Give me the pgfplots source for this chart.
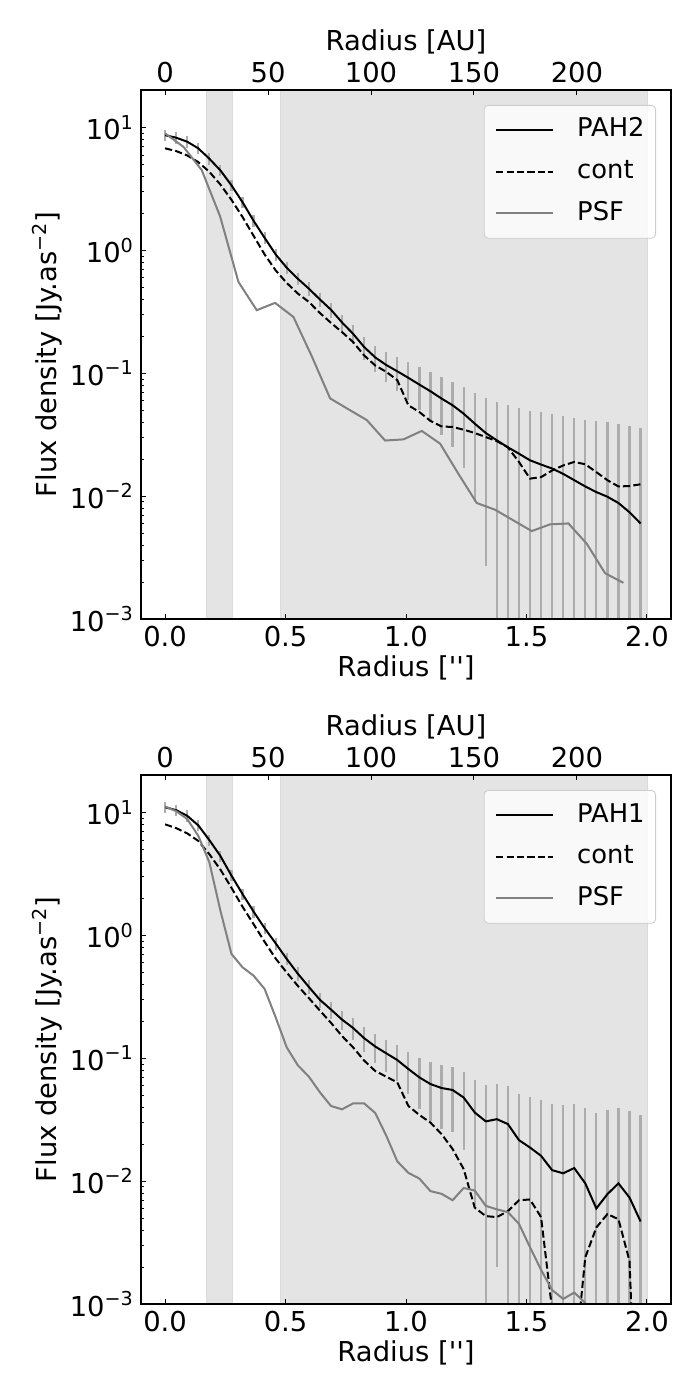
\documentclass[border=0pt]{standalone}
\usepackage{fontspec}
\setmainfont{DejaVu Sans}
\usepackage{pgfplots}
\usepackage{pgfplotstable}
\pgfplotsset{compat=1.18}
\definecolor{bandgray}{RGB}{228,228,228}
\definecolor{bandedge}{RGB}{218,218,218}
\definecolor{errgray}{RGB}{172,172,172}
\definecolor{psfgray}{RGB}{128,128,128}
\definecolor{legedge}{RGB}{204,204,204}
\newcommand{\fs}{\fontsize{13.7}{16.4}\selectfont}
\newcommand{\lfs}{\fontsize{12.9}{15.5}\selectfont}

\pgfplotstableread{
x pah cont ep em
0.0000 8.7 6.8 0.91 0.91
0.0459 8.3 6.46 0.87 0.87
0.0918 7.7 5.95 0.81 0.81
0.1377 6.8 5.25 0.71 0.71
0.1836 5.6 4.38 0.59 0.59
0.2295 4.5 3.45 0.47 0.47
0.2754 3.4 2.59 0.36 0.36
0.3213 2.48 1.88 0.26 0.26
0.3672 1.75 1.32 0.186 0.186
0.4131 1.27 0.93 0.137 0.137
0.4590 0.93 0.69 0.102 0.102
0.5049 0.725 0.545 0.082 0.082
0.5508 0.59 0.447 0.069 0.069
0.5967 0.49 0.382 0.060 0.060
0.6426 0.40 0.31 0.052 0.052
0.6885 0.33 0.258 0.046 0.046
0.7344 0.26 0.217 0.041 0.041
0.7803 0.21 0.18 0.037 0.037
0.8262 0.164 0.14 0.035 0.035
0.8721 0.135 0.116 0.033 0.033
0.9180 0.117 0.103 0.032 0.032
0.9639 0.104 0.088 0.032 0.032
1.0098 0.092 0.055 0.031 0.031
1.0557 0.081 0.0484 0.031 0.031
1.1016 0.0715 0.041 0.031 0.031
1.1475 0.0624 0.037 0.031 0.031
1.1934 0.055 0.0366 0.030 0.030
1.2393 0.047 0.0348 0.030 0.030
1.2852 0.039 0.0327 0.030 0.030
1.3311 0.0327 0.0303 0.030 0.030
1.3770 0.0285 0.0281 0.030 0.0282
1.4229 0.025 0.025 0.030 0.0248
1.4688 0.0222 0.019 0.030 0.0220
1.5147 0.0196 0.0139 0.030 0.0194
1.5606 0.0181 0.0143 0.030 0.0179
1.6065 0.0168 0.0162 0.030 0.0166
1.6524 0.0152 0.0178 0.030 0.0150
1.6983 0.0135 0.019 0.030 0.0134
1.7442 0.012 0.0182 0.030 0.0119
1.7901 0.0108 0.0157 0.030 0.0107
1.8360 0.0099 0.0135 0.030 0.0098
1.8819 0.0088 0.012 0.030 0.0087
1.9278 0.0074 0.0121 0.030 0.0073
1.9737 0.006 0.0125 0.030 0.0059
}\topdata

\pgfplotstableread{
x psf
0.0000 9.0
0.0761 7.0
0.1522 4.52
0.2283 1.9
0.3044 0.556
0.3805 0.327
0.4566 0.375
0.5327 0.288
0.6088 0.138
0.6849 0.0626
0.7610 0.051
0.8371 0.0417
0.9132 0.0284
0.9893 0.029
1.0654 0.034
1.1415 0.0268
1.2176 0.0152
1.2937 0.0088
1.3698 0.00776
1.4459 0.00635
1.5220 0.0052
1.5981 0.0059
1.6742 0.006
1.7503 0.0041
1.8264 0.00236
1.9025 0.00197
}\toppsf

\pgfplotstableread{
x pah cont psf ep em
0.0000 11.1 8.05 11.25 1.17 1.17
0.0459 10.5 7.5 10.3 1.10 1.10
0.0918 9.45 6.8 8.9 0.99 0.99
0.1377 7.9 5.9 6.5 0.83 0.83
0.1836 6.0 4.6 3.96 0.63 0.63
0.2295 4.45 3.45 1.6 0.47 0.47
0.2754 3.08 2.45 0.71 0.32 0.32
0.3213 2.18 1.72 0.552 0.23 0.23
0.3672 1.57 1.24 0.472 0.167 0.167
0.4131 1.15 0.89 0.368 0.124 0.124
0.4590 0.865 0.65 0.216 0.096 0.096
0.5049 0.645 0.50 0.123 0.074 0.074
0.5508 0.49 0.39 0.088 0.060 0.060
0.5967 0.382 0.31 0.071 0.050 0.050
0.6426 0.30 0.245 0.053 0.044 0.044
0.6885 0.25 0.195 0.041 0.040 0.040
0.7344 0.207 0.152 0.0385 0.037 0.037
0.7803 0.177 0.123 0.043 0.035 0.035
0.8262 0.146 0.096 0.043 0.034 0.034
0.8721 0.125 0.079 0.036 0.033 0.033
0.9180 0.11 0.071 0.0235 0.032 0.032
0.9639 0.097 0.0637 0.0145 0.032 0.032
1.0098 0.082 0.041 0.0117 0.031 0.031
1.0557 0.070 0.0346 0.0105 0.031 0.031
1.1016 0.0618 0.030 0.0083 0.031 0.031
1.1475 0.0574 0.0242 0.0079 0.031 0.031
1.1934 0.0553 0.0183 0.0070 0.030 0.030
1.2393 0.048 0.01256 0.0088 0.030 0.030
1.2852 0.0363 0.0061 0.0084 0.030 0.030
1.3311 0.0307 0.0052 0.0063 0.030 0.030
1.3770 0.032 0.0051 0.0059 0.030 0.030
1.4229 0.0292 0.0057 0.0056 0.030 0.0289
1.4688 0.0216 0.0070 0.0045 0.030 0.0214
1.5147 0.0188 0.0071 0.0029 0.030 0.0186
1.5606 0.0161 0.0051 0.0019 0.030 0.0159
1.6065 0.0123 0.0009 0.0013 0.030 0.0122
1.6524 0.0116 0.00001 0.0011 0.030 0.0115
1.6983 0.0128 0.0003 0.00124 0.030 0.0127
1.7442 0.0096 0.0024 0.00102 0.030 0.0095
1.7901 0.006 0.0042 0.0008 0.030 0.0059
1.8360 0.00785 0.0054 0.0007 0.030 0.0078
1.8819 0.0096 0.0049 0.0006 0.030 0.0095
1.9278 0.00736 0.00224 0.0005 0.030 0.0073
1.9737 0.0047 0.00001 0.0005 0.030 0.00465
}\botdata

\pgfplotsset{
 myaxis/.style={
  scale only axis, width=265pt, height=264.5pt,
  xmin=-0.1, xmax=2.1, ymin=1e-3, ymax=20.3,
  axis on top,
  xtick={0,0.5,1,1.5,2}, xtick pos=bottom, ytick pos=left,
  ytick={1e-3,1e-2,1e-1,1,10},
  minor ytick={2e-3,3e-3,4e-3,5e-3,6e-3,7e-3,8e-3,9e-3,2e-2,3e-2,4e-2,5e-2,6e-2,7e-2,8e-2,9e-2,0.2,0.3,0.4,0.5,0.6,0.7,0.8,0.9,2,3,4,5,6,7,8,9,20},
  yticklabels={10\textsuperscript{−3},10\textsuperscript{−2},10\textsuperscript{−1},10\textsuperscript{0},10\textsuperscript{1}},
  xticklabel style={/pgf/number format/fixed, /pgf/number format/fixed zerofill, /pgf/number format/precision=1, /pgf/number format/assume math mode=true},
  tick label style={font=\fs},
  label style={font=\fs},
  tick align=inside,
  major tick length=2.5pt, minor tick length=1.3pt,
  every tick/.style={black, line width=0.5pt},
  axis line style={line width=0.6pt},
  xlabel={Radius [\textquotesingle\textquotesingle]},
  ylabel={Flux density [Jy.as\textsuperscript{−2}]},
  xlabel style={at={(axis description cs:0.5,-0.093)}, anchor=center},
  ylabel style={at={(axis description cs:-0.177,0.5)}, anchor=center},
  legend style={at={(axis description cs:1,1)}, xshift=-7.5pt, yshift=-7.5pt, anchor=north east, draw=legedge, fill=white, fill opacity=0.8, text opacity=1, rounded corners=2pt, font=\lfs, inner xsep=5.5pt, inner ysep=6.2pt, row sep=8.4pt, nodes={inner sep=0pt, text height=9.6pt, text depth=2.8pt}},
  legend cell align=left,
  legend image code/.code={\draw[##1] (0pt,0pt) -- (28.5pt,0pt);},
 },
 auaxis/.style={
  scale only axis, width=265pt, height=264.5pt,
  xmin=-11.7, xmax=245.7, ymin=0, ymax=1,
  axis x line*=top, axis y line=none,
  xtick={0,50,100,150,200}, tick align=inside,
  major tick length=2.5pt,
  xticklabel style={/pgf/number format/assume math mode=true},
  tick label style={font=\fs}, label style={font=\fs},
  xlabel={Radius [AU]},
  xlabel style={at={(axis description cs:0.5,1.0907)}, anchor=center},
  axis line style={line width=0.6pt},
  every tick/.style={black, line width=0.5pt},
 },
}

\begin{document}
\begin{tikzpicture}
\useasboundingbox (0,0) rectangle (350pt,-700pt);
% ---------------- top panel
\begin{semilogyaxis}[myaxis, at={(70.5pt,-309.5pt)}, anchor=south west, legend style={/tikz/every odd column/.append style={column sep=11.5pt}}]
\addplot[fill=bandgray, draw=bandedge, line width=0.4pt, forget plot] coordinates {(0.17,1e-5) (0.28,1e-5) (0.28,1e3) (0.17,1e3)} -- cycle;
\addplot[fill=bandgray, draw=bandedge, line width=0.4pt, forget plot] coordinates {(0.48,1e-5) (2.0,1e-5) (2.0,1e3) (0.48,1e3)} -- cycle;
\addplot[forget plot, draw=none, mark=none, error bars/y dir=both, error bars/y explicit, error bars/error mark=none, error bars/error bar style={draw=errgray, line width=1.1pt, solid}] table[x=x, y=pah, y error plus=ep, y error minus=em] {\topdata};
\addplot[black, line width=1pt] table[x=x, y=pah] {\topdata};
\addlegendentry{PAH2}
\addplot[black, line width=1pt, dash pattern=on 3.6pt off 1.6pt] table[x=x, y=cont] {\topdata};
\addlegendentry{cont}
\addplot[psfgray, line width=1pt] table[x=x, y=psf] {\toppsf};
\addlegendentry{PSF}
\end{semilogyaxis}
\begin{axis}[auaxis, at={(70.5pt,-309.5pt)}, anchor=south west]
\addplot[draw=none] coordinates {(0,0.5)};
\end{axis}
% ---------------- bottom panel
\begin{semilogyaxis}[myaxis, at={(70.5pt,-652pt)}, anchor=south west, legend style={/tikz/every odd column/.append style={column sep=11.5pt}}]
\addplot[fill=bandgray, draw=bandedge, line width=0.4pt, forget plot] coordinates {(0.17,1e-5) (0.28,1e-5) (0.28,1e3) (0.17,1e3)} -- cycle;
\addplot[fill=bandgray, draw=bandedge, line width=0.4pt, forget plot] coordinates {(0.48,1e-5) (2.0,1e-5) (2.0,1e3) (0.48,1e3)} -- cycle;
\addplot[forget plot, draw=none, mark=none, error bars/y dir=both, error bars/y explicit, error bars/error mark=none, error bars/error bar style={draw=errgray, line width=1.1pt, solid}] table[x=x, y=pah, y error plus=ep, y error minus=em] {\botdata};
\addplot[black, line width=1pt] table[x=x, y=pah] {\botdata};
\addlegendentry{PAH1}
\addplot[black, line width=1pt, dash pattern=on 3.6pt off 1.6pt] table[x=x, y=cont] {\botdata};
\addlegendentry{cont}
\addplot[psfgray, line width=1pt] table[x=x, y=psf] {\botdata};
\addlegendentry{PSF}
\end{semilogyaxis}
\begin{axis}[auaxis, at={(70.5pt,-652pt)}, anchor=south west]
\addplot[draw=none] coordinates {(0,0.5)};
\end{axis}
\end{tikzpicture}
\end{document}
